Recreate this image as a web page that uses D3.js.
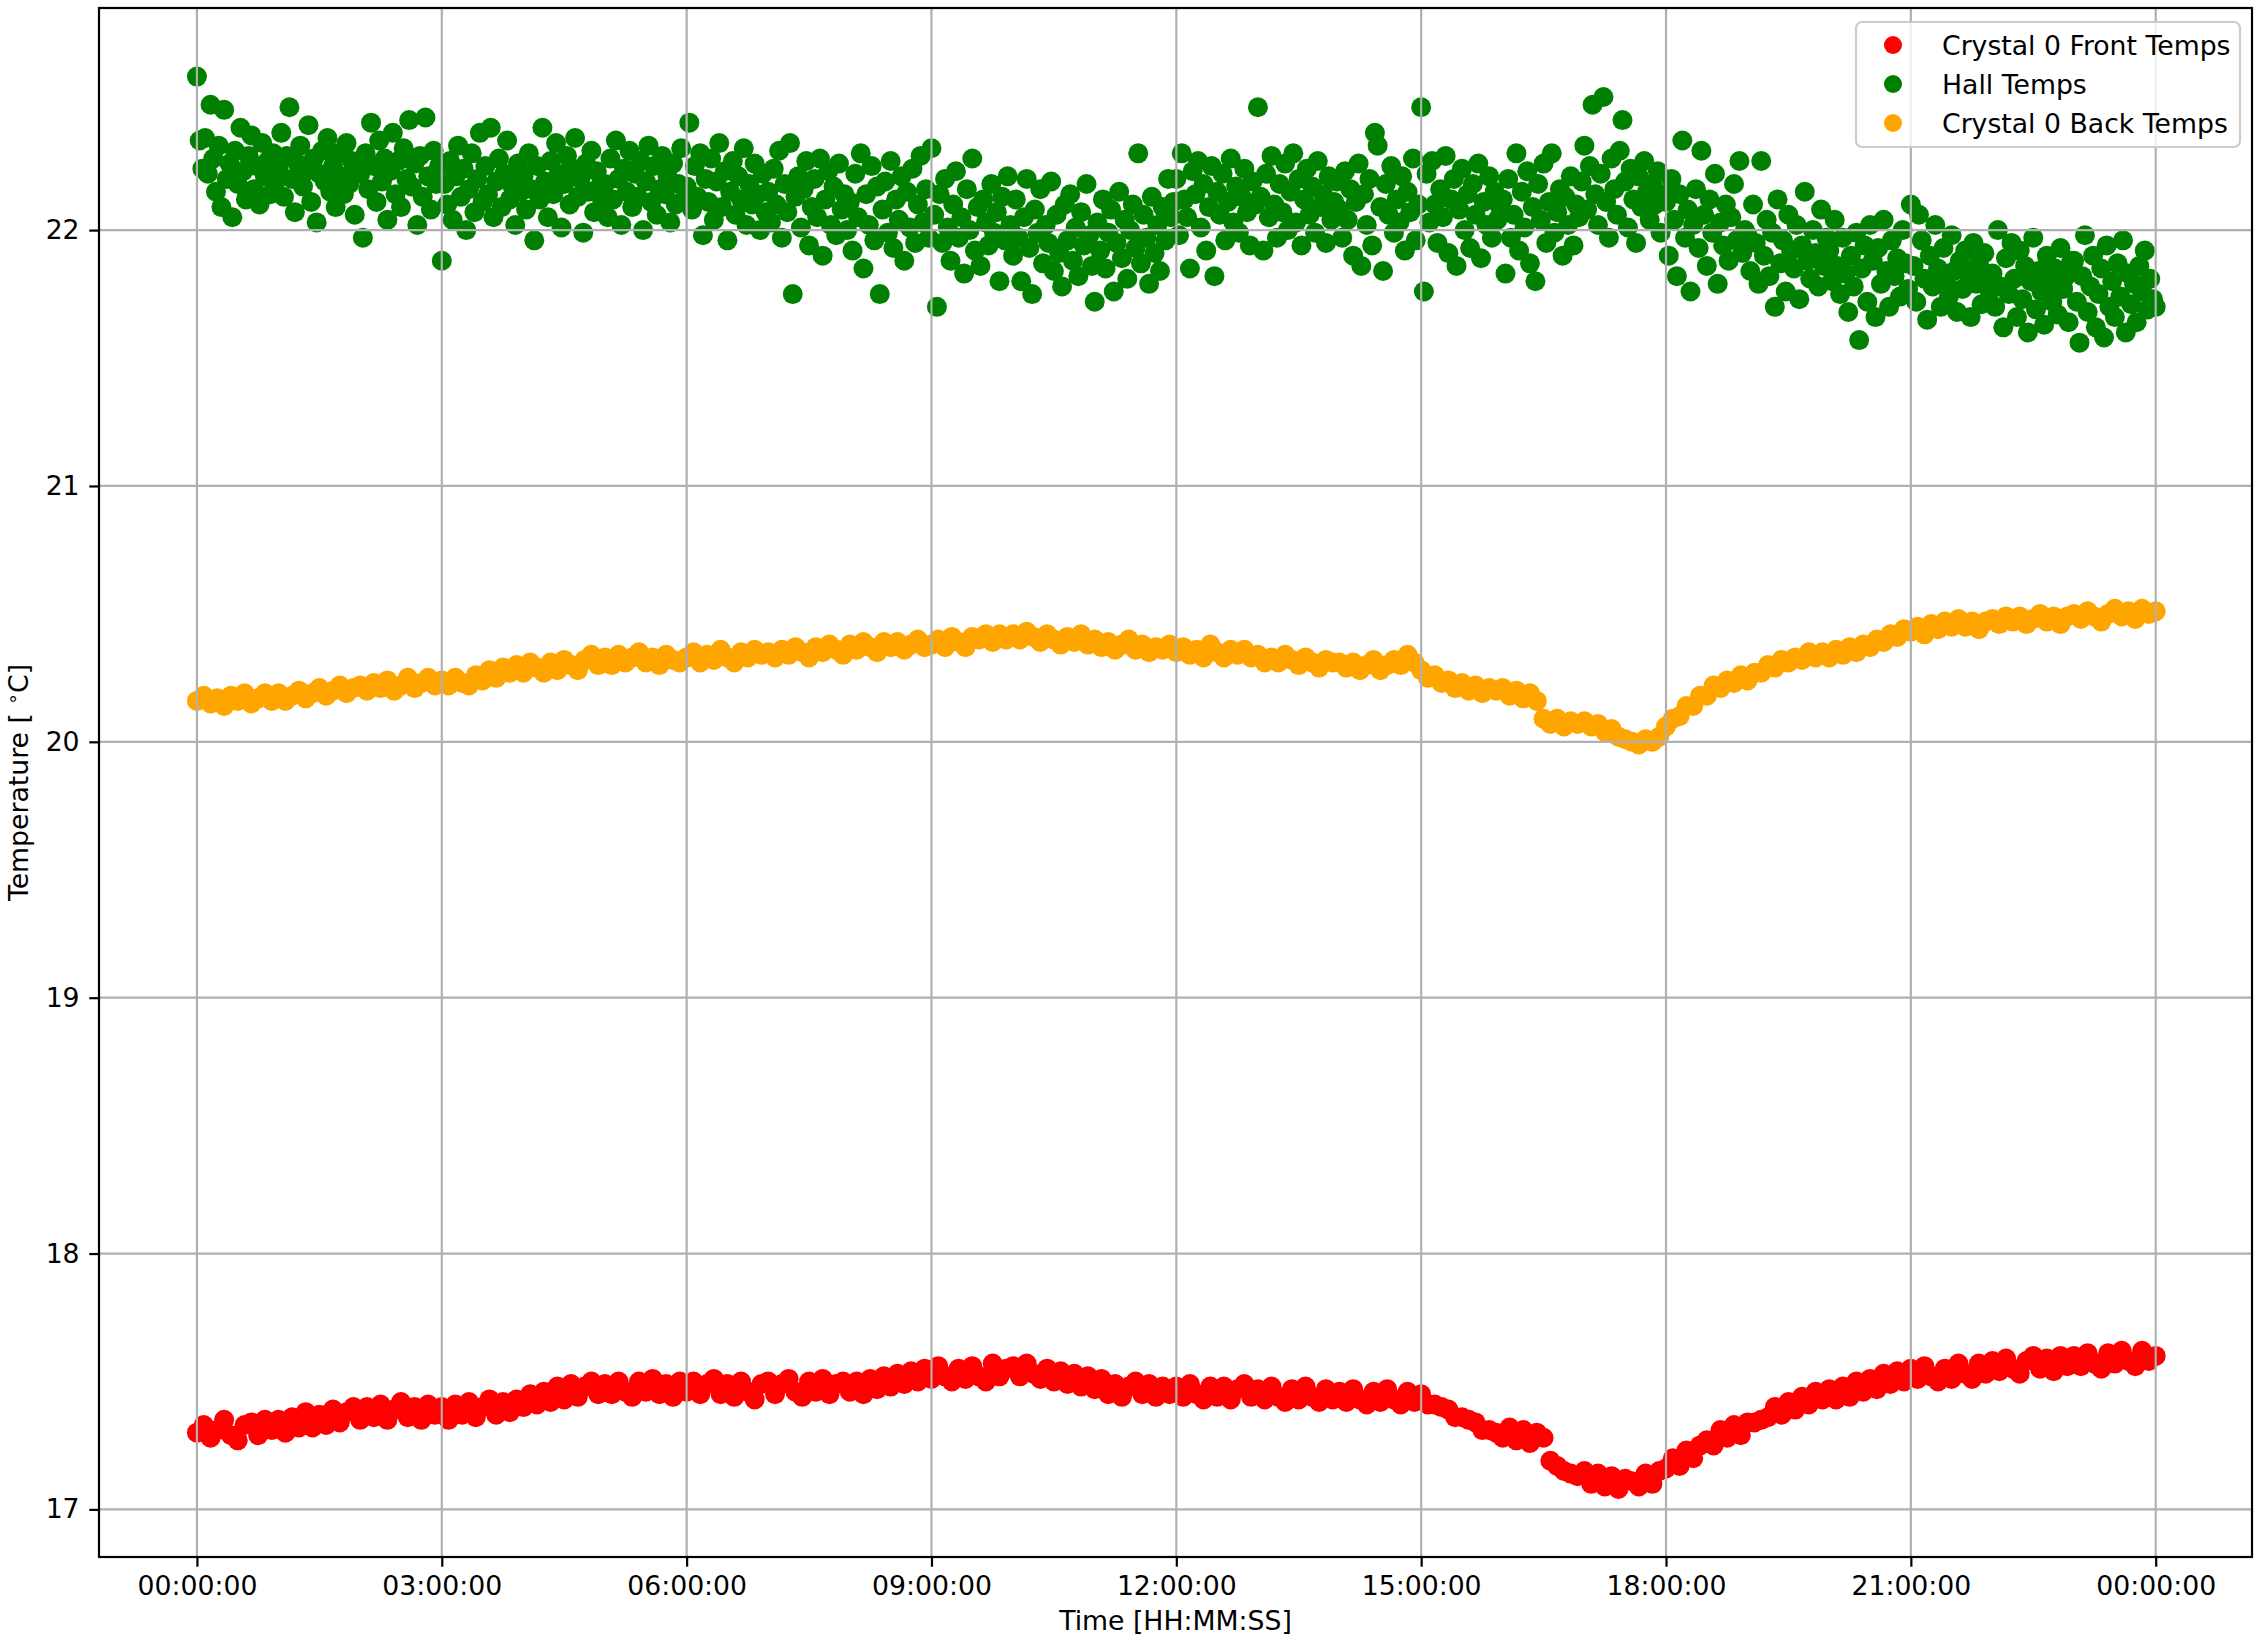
<!DOCTYPE html>
<html>
<head>
<meta charset="utf-8">
<script src="https://cdn.jsdelivr.net/npm/d3@7"></script>
<style>
  body { margin: 0; background: #fff; }
  text { font-family: "DejaVu Sans", sans-serif; }
</style>
</head>
<body>
<script>
// tick labels on the time axis (hours since start)
var tickHours = [0, 3, 6, 9, 12, 15, 18, 21, 24];
var tickLabels = ["00:00:00", "03:00:00", "06:00:00", "09:00:00", "12:00:00",
                  "15:00:00", "18:00:00", "21:00:00", "00:00:00"];
var tempTicks = [17, 18, 19, 20, 21, 22];

var seriesNames = ["Crystal 0 Front Temps", "Hall Temps", "Crystal 0 Back Temps"];
var seriesColors = ["red", "green", "orange"];

// crystal front, one reading every 5 min
var frontStep = 5;
var frontTemps = [
  17.30,17.33,17.28,17.31,17.35,17.29,17.27,17.33,17.34,17.29,17.35,17.31,
  17.35,17.30,17.36,17.32,17.38,17.32,17.37,17.33,17.39,17.34,17.38,17.40,
  17.35,17.40,17.36,17.41,17.35,17.39,17.42,17.36,17.40,17.35,17.41,17.37,
  17.40,17.35,17.41,17.37,17.42,17.36,17.40,17.43,17.37,17.42,17.38,17.43,
  17.40,17.45,17.41,17.46,17.42,17.48,17.43,17.49,17.44,17.48,17.50,17.45,
  17.49,17.45,17.50,17.46,17.44,17.50,17.46,17.51,17.45,17.49,17.44,17.50,
  17.46,17.50,17.45,17.49,17.51,17.45,17.49,17.44,17.50,17.46,17.43,17.49,
  17.50,17.45,17.49,17.51,17.46,17.44,17.50,17.46,17.51,17.45,17.49,17.50,
  17.46,17.50,17.45,17.51,17.47,17.52,17.48,17.53,17.49,17.54,17.50,17.55,
  17.51,17.56,17.52,17.50,17.55,17.51,17.56,17.52,17.50,17.57,17.52,17.55,
  17.56,17.52,17.57,17.53,17.51,17.55,17.50,17.54,17.49,17.53,17.48,17.52,
  17.47,17.51,17.45,17.49,17.44,17.48,17.50,17.45,17.49,17.44,17.48,17.45,
  17.48,17.44,17.49,17.45,17.43,17.48,17.44,17.48,17.43,17.47,17.49,17.44,
  17.47,17.43,17.48,17.44,17.42,17.47,17.43,17.48,17.44,17.42,17.47,17.43,
  17.46,17.42,17.47,17.43,17.41,17.46,17.42,17.47,17.43,17.41,17.46,17.42,
  17.45,17.41,17.41,17.40,17.39,17.36,17.36,17.35,17.34,17.31,17.31,17.30,
  17.28,17.32,17.27,17.31,17.26,17.30,17.28,17.19,17.17,17.15,17.14,17.13,
  17.15,17.10,17.14,17.09,17.13,17.08,17.12,17.11,17.09,17.14,17.10,17.15,
  17.16,17.20,17.17,17.23,17.20,17.25,17.27,17.25,17.31,17.28,17.33,17.29,
  17.34,17.34,17.35,17.36,17.40,17.37,17.42,17.39,17.44,17.41,17.46,17.43,
  17.47,17.43,17.48,17.44,17.50,17.46,17.51,17.47,17.53,17.49,17.54,17.50,
  17.55,17.51,17.56,17.52,17.50,17.55,17.51,17.57,17.53,17.51,17.57,17.53,
  17.58,17.54,17.59,17.55,17.53,17.58,17.60,17.55,17.59,17.54,17.60,17.56,
  17.60,17.56,17.61,17.57,17.55,17.61,17.57,17.62,17.58,17.56,17.62,17.58,
  17.60
];

// hall sensor, one reading every 2 min
var hallStep = 2;
var hallTemps = [
  22.60,22.35,22.24,22.36,22.22,22.49,22.28,22.15,22.33,22.09,22.47,22.20,22.26,22.05,22.31,22.18,22.40,22.23,22.12,22.29,22.37,22.16,22.25,22.10,22.34,22.21,22.27,22.14,22.30,22.19,
  22.24,22.38,22.13,22.29,22.48,22.20,22.07,22.26,22.33,22.17,22.23,22.41,22.11,22.28,22.03,22.22,22.31,22.19,22.36,22.15,22.25,22.09,22.30,22.21,22.14,22.34,22.18,22.27,22.06,22.24,
  22.22,21.97,22.30,22.16,22.42,22.25,22.11,22.35,22.19,22.28,22.04,22.23,22.38,22.14,22.27,22.09,22.32,22.20,22.43,22.17,22.26,22.02,22.29,22.13,22.44,22.21,22.08,22.31,22.18,22.25,
  21.88,22.18,22.10,22.27,22.04,22.21,22.33,22.13,22.24,22.00,22.16,22.30,22.07,22.20,22.38,22.11,22.25,22.14,22.40,22.05,22.19,22.28,22.09,22.22,22.35,22.12,22.17,22.02,22.26,22.15,
  22.21,22.08,22.30,22.16,21.96,22.25,22.12,22.40,22.19,22.05,22.27,22.14,22.34,22.22,22.01,22.18,22.29,22.10,22.24,22.36,22.13,22.20,21.99,22.26,22.15,22.31,22.07,22.23,22.17,22.11,
  22.18,22.05,22.28,22.12,22.35,22.20,22.02,22.24,22.15,22.31,22.09,22.22,22.13,22.27,22.00,22.19,22.33,22.11,22.25,22.06,22.16,22.29,22.14,22.21,22.03,22.26,22.10,22.18,22.32,22.12,
  22.17,22.42,22.08,22.25,22.13,22.30,21.98,22.20,22.11,22.28,22.04,22.19,22.34,22.09,22.23,21.96,22.15,22.27,22.06,22.21,22.12,22.32,22.02,22.18,22.10,22.26,22.14,22.00,22.22,22.07,
  22.15,22.03,22.24,22.10,22.31,21.97,22.18,22.07,22.34,21.75,22.13,22.21,22.01,22.16,22.27,21.94,22.09,22.20,22.05,22.28,21.90,22.12,22.23,22.02,22.17,21.98,22.26,22.08,22.14,22.00,
  22.11,21.92,22.22,22.05,22.30,21.85,22.14,22.02,22.25,21.96,22.17,21.75,22.08,22.19,21.99,22.27,21.93,22.12,22.04,22.21,21.88,22.15,22.01,22.24,21.95,22.10,22.29,22.03,22.16,21.97,
  22.32,22.06,21.70,22.14,21.95,22.20,22.01,21.88,22.10,22.23,21.97,22.05,21.83,22.16,22.00,22.28,21.92,22.09,21.86,22.12,22.03,21.94,22.18,21.99,22.07,21.80,22.13,21.96,22.21,22.02,
  21.90,22.12,21.97,21.80,22.05,22.20,21.93,21.75,22.08,21.99,22.16,21.87,22.02,21.95,22.19,21.84,22.06,21.91,21.78,22.10,21.96,22.14,21.88,22.01,21.82,22.07,21.94,22.18,21.98,21.86,
  21.72,22.03,21.92,22.12,21.85,21.99,22.08,21.76,21.95,22.15,21.89,22.04,21.81,22.00,22.10,21.93,22.30,21.87,22.06,21.97,21.79,22.13,21.91,22.02,21.84,22.09,21.96,22.20,22.05,22.11,
  22.20,21.98,22.30,22.12,22.05,21.85,22.23,22.14,22.27,22.01,22.18,21.92,22.09,22.25,21.82,22.15,22.06,22.22,21.96,22.11,22.28,22.03,22.17,21.99,22.13,22.24,22.07,21.94,22.19,22.10,
  22.48,22.13,21.92,22.22,22.05,22.29,22.10,21.97,22.18,22.07,22.26,22.00,22.15,22.30,22.03,22.20,21.94,22.12,22.24,22.06,22.17,21.99,22.27,22.09,22.14,21.95,22.21,22.04,22.11,22.19,
  22.08,21.97,22.23,22.04,22.16,21.90,22.11,22.26,21.86,22.14,22.02,22.20,21.94,22.38,22.33,22.09,21.84,22.18,22.06,22.25,21.99,22.12,22.03,22.21,21.92,22.15,22.07,22.28,21.96,22.10,
  22.48,21.76,22.22,22.03,22.27,22.10,21.95,22.16,22.05,22.29,21.91,22.12,22.20,21.86,22.08,22.24,22.00,22.14,21.93,22.18,22.06,22.26,21.89,22.11,22.02,22.21,21.97,22.15,22.04,22.09,
  22.12,21.83,22.20,21.97,22.06,22.30,21.92,22.15,22.01,22.23,21.87,22.09,21.80,22.18,22.04,22.26,21.95,22.11,22.30,21.99,22.07,22.16,21.90,22.13,22.02,22.21,21.94,22.10,22.05,22.19,
  22.33,22.08,22.25,22.49,22.14,22.02,22.22,22.52,22.11,21.97,22.28,22.16,22.06,22.31,22.43,22.19,22.01,22.24,22.12,21.95,22.21,22.09,22.27,22.15,22.04,22.18,22.10,22.23,21.99,22.14,
  22.11,21.90,22.20,22.04,21.82,22.14,22.35,21.97,22.08,21.76,22.02,22.16,21.93,22.31,22.06,21.86,22.12,21.99,22.22,21.79,22.03,21.94,22.10,21.88,22.05,22.18,21.96,22.27,21.91,22.00,
  21.98,21.84,22.10,21.95,21.79,22.27,21.90,22.04,21.82,21.99,21.70,22.12,21.87,21.96,21.76,22.06,21.92,21.85,22.02,21.73,21.94,22.15,21.88,21.81,22.00,21.91,21.78,22.08,21.86,21.97,
  21.92,21.80,22.04,21.86,21.75,21.97,21.83,21.68,21.90,21.78,21.99,21.57,21.85,21.94,21.72,22.02,21.88,21.66,21.93,21.79,22.04,21.84,21.70,21.96,21.82,21.89,21.74,22.00,21.87,21.77,
  22.10,21.86,21.72,22.06,21.96,21.81,21.65,21.90,21.78,22.02,21.85,21.70,21.93,21.80,21.74,21.98,21.84,21.68,21.88,21.77,21.92,21.83,21.66,21.95,21.79,21.87,21.71,21.91,21.82,21.76,
  21.83,21.70,22.00,21.78,21.62,21.89,21.75,21.95,21.81,21.66,21.92,21.73,21.86,21.60,21.80,21.97,21.69,21.84,21.76,21.63,21.90,21.79,21.72,21.85,21.67,21.93,21.77,21.82,21.64,21.88,
  21.88,21.72,21.56,21.82,21.98,21.68,21.78,21.90,21.62,21.75,21.85,21.58,21.94,21.70,21.80,21.66,21.87,21.74,21.96,21.60,21.83,21.71,21.79,21.64,21.86,21.76,21.92,21.69,21.81,21.73,
  21.70
];

// crystal back, one reading every 5 min
var backStep = 5;
var backTemps = [
  20.16,20.18,20.15,20.17,20.14,20.18,20.16,20.19,20.15,20.17,20.19,20.16,
  20.19,20.16,20.18,20.20,20.17,20.19,20.21,20.18,20.20,20.22,20.19,20.21,
  20.22,20.20,20.23,20.21,20.24,20.20,20.22,20.25,20.21,20.23,20.25,20.22,
  20.24,20.22,20.25,20.23,20.22,20.26,20.24,20.28,20.25,20.29,20.27,20.30,
  20.27,20.31,20.29,20.27,20.31,20.28,20.32,20.30,20.28,20.32,20.34,20.30,
  20.33,20.30,20.34,20.31,20.33,20.35,20.31,20.33,20.30,20.34,20.32,20.31,
  20.33,20.35,20.31,20.34,20.32,20.36,20.33,20.31,20.35,20.33,20.36,20.34,
  20.35,20.33,20.36,20.34,20.37,20.35,20.33,20.37,20.35,20.38,20.36,20.34,
  20.38,20.36,20.39,20.37,20.35,20.39,20.37,20.39,20.36,20.38,20.40,20.37,
  20.38,20.40,20.37,20.41,20.39,20.37,20.41,20.40,20.42,20.39,20.42,20.40,
  20.42,20.40,20.43,20.41,20.39,20.42,20.40,20.38,20.41,20.39,20.42,20.38,
  20.40,20.37,20.39,20.36,20.38,20.40,20.36,20.38,20.35,20.37,20.36,20.38,
  20.35,20.37,20.34,20.36,20.33,20.38,20.35,20.33,20.36,20.34,20.36,20.33,
  20.34,20.31,20.33,20.31,20.34,20.32,20.30,20.33,20.31,20.29,20.32,20.31,
  20.31,20.29,20.31,20.28,20.30,20.32,20.28,20.30,20.32,20.30,20.34,20.31,
  20.28,20.25,20.26,20.23,20.24,20.21,20.23,20.20,20.22,20.19,20.21,20.20,
  20.21,20.18,20.20,20.17,20.19,20.16,20.09,20.07,20.09,20.06,20.08,20.07,
  20.08,20.06,20.07,20.04,20.05,20.02,20.01,20.00,19.99,20.01,20.00,20.02,
  20.06,20.09,20.10,20.14,20.14,20.18,20.18,20.22,20.21,20.24,20.23,20.26,
  20.24,20.27,20.27,20.30,20.29,20.32,20.31,20.33,20.32,20.35,20.33,20.35,
  20.33,20.36,20.34,20.37,20.35,20.38,20.37,20.40,20.39,20.42,20.41,20.44,
  20.43,20.45,20.42,20.46,20.44,20.47,20.45,20.48,20.45,20.47,20.44,20.47,
  20.48,20.46,20.49,20.47,20.49,20.46,20.48,20.50,20.47,20.49,20.46,20.49,
  20.50,20.48,20.51,20.49,20.47,20.50,20.52,20.49,20.51,20.48,20.52,20.50,
  20.51
];

var W = 2254, H = 1640;
var fs = 26.7;
var plotL = 99, plotR = 2252, plotT = 8, plotB = 1557;
var dotR = 10;

var x = d3.scaleLinear().domain([-1.2, 25.18]).range([plotL, plotR]);
var y = d3.scaleLinear().domain([16.814, 22.868]).range([plotB, plotT]);

var svg = d3.select("body").append("svg")
  .attr("width", W)
  .attr("height", H);

function toPoints(vals, step) {
  return vals.map(function(v, i) { return {t: i * step / 60, v: v}; });
}

var series = [
  toPoints(frontTemps, frontStep),
  toPoints(hallTemps, hallStep),
  toPoints(backTemps, backStep)
];

var plot = svg.append("g");

series.forEach(function(pts, k) {
  plot.append("g")
    .selectAll("circle")
    .data(pts)
    .enter().append("circle")
    .attr("cx", function(d) { return x(d.t); })
    .attr("cy", function(d) { return y(d.v); })
    .attr("r", dotR)
    .attr("fill", seriesColors[k]);
});

// grid goes over the markers, like matplotlib does
var grid = svg.append("g")
  .attr("stroke", "#b0b0b0")
  .attr("stroke-width", 2.2);

grid.selectAll(".vg")
  .data(tickHours)
  .enter().append("line")
  .attr("x1", function(d) { return x(d); })
  .attr("x2", function(d) { return x(d); })
  .attr("y1", plotT)
  .attr("y2", plotB);

grid.selectAll(".hg")
  .data(tempTicks)
  .enter().append("line")
  .attr("x1", plotL)
  .attr("x2", plotR)
  .attr("y1", function(d) { return y(d); })
  .attr("y2", function(d) { return y(d); });

// axes
var xAxis = d3.axisBottom(x)
  .tickValues(tickHours)
  .tickFormat(function(d, i) { return tickLabels[i]; })
  .tickSize(9.7)
  .tickPadding(9.7);

var yAxis = d3.axisLeft(y)
  .tickValues(tempTicks)
  .tickFormat(d3.format("d"))
  .tickSize(9.7)
  .tickPadding(9.7);

var gx = svg.append("g")
  .attr("transform", "translate(0," + plotB + ")")
  .call(xAxis);

var gy = svg.append("g")
  .attr("transform", "translate(" + plotL + ",0)")
  .call(yAxis);

[gx, gy].forEach(function(g) {
  g.select(".domain").remove();
  g.selectAll(".tick line").attr("stroke", "#000").attr("stroke-width", 2.2);
  g.selectAll(".tick text")
    .attr("fill", "#000")
    .style("font-size", fs + "px")
    .style("font-family", "DejaVu Sans");
});

// frame
svg.append("rect")
  .attr("x", plotL)
  .attr("y", plotT)
  .attr("width", plotR - plotL)
  .attr("height", plotB - plotT)
  .attr("fill", "none")
  .attr("stroke", "#000")
  .attr("stroke-width", 2.2);

// axis titles
svg.append("text")
  .attr("x", (plotL + plotR) / 2)
  .attr("y", 1630)
  .attr("text-anchor", "middle")
  .style("font-size", fs + "px")
  .text("Time [HH:MM:SS]");

var yl = svg.append("text")
  .attr("transform", "translate(28," + (plotT + plotB) / 2 + ") rotate(-90)")
  .attr("text-anchor", "middle")
  .style("font-size", fs + "px");
yl.append("tspan").text("Temperature [ ");
yl.append("tspan").attr("dy", -9).style("font-size", (fs * 0.7) + "px").text("\u2218");
yl.append("tspan").attr("dy", 9).text("C]");

// legend
var lg = svg.append("g");
lg.append("rect")
  .attr("x", 1856)
  .attr("y", 22)
  .attr("width", 384)
  .attr("height", 125)
  .attr("rx", 6)
  .attr("fill", "#fff")
  .attr("fill-opacity", 0.8)
  .attr("stroke", "#cccccc")
  .attr("stroke-width", 2.2);

var rows = lg.selectAll(".row")
  .data(seriesNames)
  .enter().append("g")
  .attr("transform", function(d, i) { return "translate(0," + (45 + i * 39) + ")"; });

rows.append("circle")
  .attr("cx", 1893)
  .attr("cy", 0)
  .attr("r", 9)
  .attr("fill", function(d, i) { return seriesColors[i]; });

rows.append("text")
  .attr("x", 1942)
  .attr("y", 0)
  .attr("dy", "0.36em")
  .style("font-size", fs + "px")
  .text(function(d) { return d; });
</script>
</body>
</html>
